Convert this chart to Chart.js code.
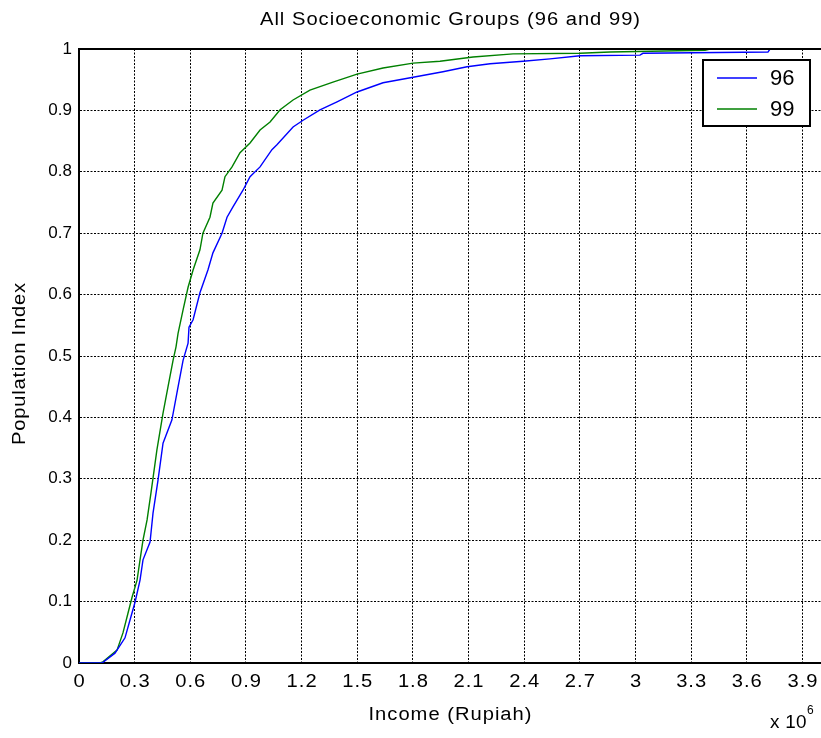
<!DOCTYPE html>
<html>
<head>
<meta charset="utf-8">
<script src="https://cdn.jsdelivr.net/npm/chart.js@4.4.0/dist/chart.umd.min.js"></script>
<style>
  html, body { margin: 0; padding: 0; background: #fff; overflow: hidden; }
  #wrap { position: relative; width: 821px; height: 738px; }
</style>
</head>
<body>
<div id="wrap"><canvas id="grafico" width="821" height="738"></canvas></div>
<script>
// income in Rupiah, population index (cumulative share)
const income96 = [0, 124000, 194000, 248000, 275000, 302000, 329000, 345000, 383000, 399000, 426000,
  453000, 501000, 528000, 561000, 588000, 593000, 615000, 652000, 695000, 722000, 771000, 798000,
  830000, 884000, 922000, 976000, 1040000, 1067000, 1154000, 1208000, 1299000, 1391000, 1499000,
  1639000, 1801000, 1962000, 2092000, 2216000, 2394000, 2539000, 2701000, 3024000, 3040000,
  3714000, 3725000, 4000000];
const pop96 = [0, 0, 0.016, 0.041, 0.070, 0.099, 0.135, 0.168, 0.197, 0.244, 0.298,
  0.358, 0.396, 0.440, 0.493, 0.521, 0.547, 0.559, 0.603, 0.640, 0.668, 0.700, 0.726,
  0.743, 0.770, 0.792, 0.808, 0.836, 0.844, 0.873, 0.884, 0.901, 0.914, 0.930,
  0.945, 0.954, 0.963, 0.971, 0.976, 0.980, 0.984, 0.989, 0.990, 0.993,
  0.995, 1, 1];

const income99 = [0, 113000, 129000, 205000, 237000, 264000, 286000, 313000, 329000, 345000, 367000,
  388000, 420000, 453000, 480000, 507000, 523000, 534000, 561000, 588000, 615000, 652000, 668000,
  706000, 722000, 771000, 787000, 825000, 868000, 922000, 976000, 1030000, 1084000, 1154000,
  1245000, 1369000, 1499000, 1639000, 1801000, 1946000, 2124000, 2340000, 2701000, 2863000,
  3375000, 3402000, 4000000];
const pop99 = [0, 0, 0.002, 0.021, 0.049, 0.081, 0.107, 0.135, 0.168, 0.200, 0.233,
  0.277, 0.347, 0.407, 0.450, 0.493, 0.515, 0.537, 0.575, 0.612, 0.640, 0.673, 0.700,
  0.726, 0.749, 0.770, 0.792, 0.808, 0.831, 0.847, 0.868, 0.881, 0.901, 0.917,
  0.933, 0.946, 0.959, 0.969, 0.977, 0.980, 0.987, 0.992, 0.993, 0.995,
  0.998, 1, 1];

const xTicks = [0, 300000, 600000, 900000, 1200000, 1500000, 1800000, 2100000, 2400000, 2700000,
  3000000, 3300000, 3600000, 3900000];
const xTickLabels = ['0', '0.3', '0.6', '0.9', '1.2', '1.5', '1.8', '2.1', '2.4', '2.7', '3', '3.3', '3.6', '3.9'];
const yTicks = [0, 0.1, 0.2, 0.3, 0.4, 0.5, 0.6, 0.7, 0.8, 0.9, 1];
const yTickLabels = ['0', '0.1', '0.2', '0.3', '0.4', '0.5', '0.6', '0.7', '0.8', '0.9', '1'];

const seriesNames = ['96', '99'];
const seriesColors = ['#0000ff', '#008000'];

const FUENTE = "'Liberation Sans', Arial, sans-serif";

function puntos(xs, ys) {
  return xs.map((x, i) => ({ x: x, y: ys[i] }));
}

// texto algo ensanchado y espaciado como el de matlab
function texto(ctx, s, x, y, size, esp, align, angle, ancho) {
  const sx = ancho || 1;
  ctx.save();
  ctx.translate(x, y);
  if (angle) ctx.rotate(angle);
  ctx.scale(sx, 1);
  ctx.font = size + 'px ' + FUENTE;
  ctx.textAlign = 'left';
  ctx.textBaseline = 'middle';
  ctx.fillStyle = '#000';
  const e = esp / sx;
  const total = ctx.measureText(s).width + e * (s.length - 1);
  let x0 = align === 'center' ? -total / 2 : (align === 'right' ? -total : 0);
  for (const ch of s) {
    ctx.fillText(ch, x0, 0);
    x0 += ctx.measureText(ch).width + e;
  }
  ctx.restore();
}

// textos, etiquetas, marco superior y leyenda
const decoracion = {
  id: 'decoracion',
  afterDraw(chart) {
    const ctx = chart.ctx;
    const area = chart.chartArea;
    const sx = chart.scales.x;
    const sy = chart.scales.y;
    ctx.save();

    // linea superior del marco
    ctx.strokeStyle = '#000';
    ctx.lineWidth = 2;
    ctx.beginPath();
    ctx.moveTo(area.left, area.top);
    ctx.lineTo(area.right, area.top);
    ctx.stroke();

    // etiquetas de los ejes
    xTicks.forEach((v, i) => {
      texto(ctx, xTickLabels[i], sx.getPixelForValue(v), 682, 18, 1, 'center', 0, 1.12);
    });
    yTicks.forEach((v, i) => {
      texto(ctx, yTickLabels[i], 72, sy.getPixelForValue(v), 17, 0, 'right');
    });

    texto(ctx, 'All Socioeconomic Groups (96 and 99)', 450, 20, 18, 1, 'center', 0, 1.12);
    texto(ctx, 'Income (Rupiah)', 450, 715, 18, 1, 'center', 0, 1.12);
    texto(ctx, 'Population Index', 20, 364, 18, 0.8, 'center', -Math.PI / 2, 1.12);
    texto(ctx, 'x 10', 770, 723, 18, 0.3, 'left', 0, 1.05);
    texto(ctx, '6', 807, 711, 12, 0, 'left');

    // leyenda
    const lx = 703, ly = 60, lw = 107, lh = 66;
    ctx.fillStyle = '#fff';
    ctx.fillRect(lx, ly, lw, lh);
    ctx.strokeStyle = '#000';
    ctx.lineWidth = 2;
    ctx.strokeRect(lx, ly, lw, lh);
    seriesNames.forEach((name, i) => {
      const y = ly + 18 + i * 31;
      ctx.strokeStyle = seriesColors[i];
      ctx.lineWidth = 1.5;
      ctx.beginPath();
      ctx.moveTo(717, y);
      ctx.lineTo(757, y);
      ctx.stroke();
      texto(ctx, name, 770, y + 1, 22, 0, 'left');
    });
    ctx.restore();
  }
};

const ctx = document.getElementById('grafico').getContext('2d');
new Chart(ctx, {
  type: 'line',
  data: {
    datasets: [
      {
        label: seriesNames[0],
        data: puntos(income96, pop96),
        borderColor: seriesColors[0],
        borderWidth: 1.4,
        pointRadius: 0,
        tension: 0,
        fill: false
      },
      {
        label: seriesNames[1],
        data: puntos(income99, pop99),
        borderColor: seriesColors[1],
        borderWidth: 1.4,
        pointRadius: 0,
        tension: 0,
        fill: false
      }
    ]
  },
  options: {
    responsive: false,
    animation: false,
    layout: { padding: { top: 49, left: 0, right: 0, bottom: 0 } },
    plugins: {
      legend: { display: false },
      tooltip: { enabled: false },
      title: { display: false }
    },
    scales: {
      x: {
        type: 'linear',
        min: 0,
        max: 4000000,
        afterFit: scale => { scale.height = 75; },
        afterBuildTicks: scale => { scale.ticks = xTicks.map(v => ({ value: v })); },
        grid: { color: '#000', lineWidth: 1, drawTicks: false },
        border: { display: true, color: '#000', width: 2, dash: [2, 1.5] },
        ticks: { display: false }
      },
      y: {
        type: 'linear',
        min: 0,
        max: 1,
        afterFit: scale => { scale.width = 79; },
        afterBuildTicks: scale => { scale.ticks = yTicks.map(v => ({ value: v })); },
        grid: { color: '#000', lineWidth: 1, drawTicks: false },
        border: { display: true, color: '#000', width: 2, dash: [2, 1.5] },
        ticks: { display: false }
      }
    }
  },
  plugins: [decoracion]
});
</script>
</body>
</html>
